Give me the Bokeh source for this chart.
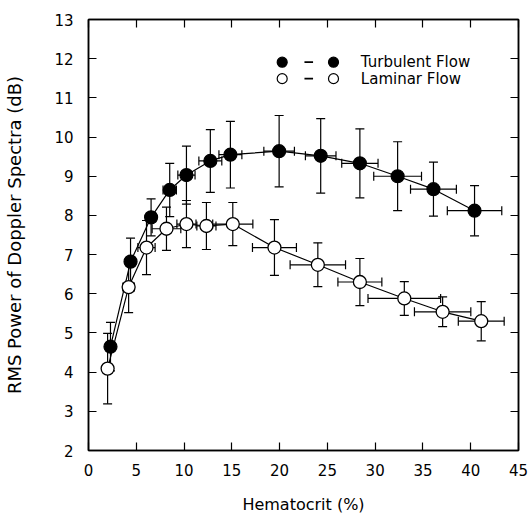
from bokeh.plotting import figure
from bokeh.models import (ColumnDataSource, Whisker, TeeHead, LinearAxis, Range1d,
                          SingleIntervalTicker, CustomJSTickFormatter)
from bokeh.core.properties import value
from bokeh.embed import file_html
from bokeh.resources import INLINE

# ---- data ----
hct_turb = [2.3, 4.4, 6.55, 8.5, 10.25, 12.75, 14.85, 19.95, 24.3, 28.4, 32.35, 36.1, 40.4]
rms_turb = [4.65, 6.82, 7.95, 8.65, 9.03, 9.39, 9.55, 9.64, 9.52, 9.33, 9.0, 8.67, 8.12]
rms_turb_err = [0.62, 0.6, 0.47, 0.68, 0.74, 0.8, 0.85, 0.91, 0.95, 0.88, 0.88, 0.69, 0.64]
hct_turb_err = [0.3, 0.4, 0.5, 0.7, 0.9, 1.2, 1.2, 1.6, 1.6, 1.9, 2.5, 2.4, 2.85]

hct_lam = [2.0, 4.2, 6.07, 8.16, 10.25, 12.34, 15.1, 19.46, 24.0, 28.4, 33.05, 37.06, 41.1]
rms_lam = [4.09, 6.17, 7.18, 7.66, 7.78, 7.73, 7.78, 7.18, 6.74, 6.3, 5.88, 5.54, 5.3]
rms_lam_err = [0.9, 0.65, 0.69, 0.55, 0.6, 0.6, 0.55, 0.71, 0.56, 0.6, 0.43, 0.38, 0.5]
hct_lam_err = [0.3, 0.6, 0.9, 1.5, 1.0, 1.0, 2.1, 2.3, 2.9, 2.3, 3.8, 2.95, 2.4]

series_names = ["Turbulent Flow", "Laminar Flow"]
x_label = "Hematocrit (%)"
y_label = "RMS Power of Doppler Spectra (dB)"

FONT = "DejaVu Sans"


def make_source(x, y, yerr, xerr):
    return ColumnDataSource(dict(
        x=x, y=y,
        y_up=[a + e for a, e in zip(y, yerr)], y_lo=[a - e for a, e in zip(y, yerr)],
        x_up=[a + e for a, e in zip(x, xerr)], x_lo=[a - e for a, e in zip(x, xerr)],
    ))


src_t = make_source(hct_turb, rms_turb, rms_turb_err, hct_turb_err)
src_l = make_source(hct_lam, rms_lam, rms_lam_err, hct_lam_err)

p = figure(width=530, height=516, output_backend="svg", toolbar_location=None,
           x_range=Range1d(0, 45), y_range=Range1d(2, 13),
           min_border_left=88, min_border_right=12, min_border_top=19, min_border_bottom=65)
p.grid.visible = False
p.outline_line_color = "black"
p.outline_line_width = 1.5
p.background_fill_color = "white"
p.border_fill_color = "white"

for ax in (p.xaxis[0], p.yaxis[0]):
    ax.major_tick_in = 8
    ax.major_tick_out = 0
    ax.minor_tick_line_color = None
    ax.axis_line_width = 1.5
    ax.major_tick_line_width = 1.2
    ax.major_label_text_font = FONT
    ax.major_label_text_font_size = "15px"
    ax.major_label_text_color = "black"
    ax.axis_label_text_font = FONT
    ax.axis_label_text_font_style = "normal"
    ax.axis_label_text_color = "black"

p.xaxis.axis_label_text_font_size = "16px"
p.yaxis.axis_label_text_font_size = "18px"
p.xaxis.ticker = SingleIntervalTicker(interval=5)
p.yaxis.ticker = SingleIntervalTicker(interval=1)
p.xaxis.axis_label = x_label
p.yaxis.axis_label = y_label
p.xaxis.major_label_standoff = 9
p.yaxis.major_label_standoff = 11
p.xaxis.axis_label_standoff = 16
p.yaxis.axis_label_standoff = 26

blank = CustomJSTickFormatter(code="return ''")
top_ax = LinearAxis(ticker=SingleIntervalTicker(interval=5), formatter=blank,
                    major_tick_in=8, major_tick_out=0, minor_tick_line_color=None,
                    axis_line_width=1.5, major_tick_line_width=1.2, major_label_standoff=0)
right_ax = LinearAxis(ticker=SingleIntervalTicker(interval=1), formatter=blank,
                      major_tick_in=8, major_tick_out=0, minor_tick_line_color=None,
                      axis_line_width=1.5, major_tick_line_width=1.2, major_label_standoff=0)
p.add_layout(top_ax, "above")
p.add_layout(right_ax, "right")

# connecting lines
p.line("x", "y", source=src_t, line_color="black", line_width=1.2)
p.line("x", "y", source=src_l, line_color="black", line_width=1.2)

# error bars
for src in (src_t, src_l):
    p.add_layout(Whisker(source=src, base="x", upper="y_up", lower="y_lo", dimension="height",
                         line_color="black", line_width=1.2,
                         upper_head=TeeHead(size=9, line_width=1.2),
                         lower_head=TeeHead(size=9, line_width=1.2)))
    p.add_layout(Whisker(source=src, base="y", upper="x_up", lower="x_lo", dimension="width",
                         line_color="black", line_width=1.2,
                         upper_head=TeeHead(size=9, line_width=1.2),
                         lower_head=TeeHead(size=9, line_width=1.2)))

# markers
p.scatter("x", "y", source=src_t, size=13, fill_color="black", line_color="black", line_width=1.2)
p.scatter("x", "y", source=src_l, size=13, fill_color="white", line_color="black", line_width=1.3)

# legend (manual, to mimic "● – ●  label")
leg_rows_y = [11.91, 11.49]
leg_fill = ["black", "white"]
for ly, fc, name in zip(leg_rows_y, leg_fill, series_names):
    p.scatter([20.27, 25.64], [ly, ly], size=10, fill_color=fc, line_color="black", line_width=1.2)
    p.segment(x0=[22.6], y0=[ly], x1=[23.5], y1=[ly], line_color="black", line_width=1.8)
    p.text(x=[28.5], y=[ly], text=[name], text_font=value(FONT), text_font_size="15px",
           text_baseline="middle", text_align="left", text_color="black")

open("out.html", "w").write(file_html(p, INLINE))
